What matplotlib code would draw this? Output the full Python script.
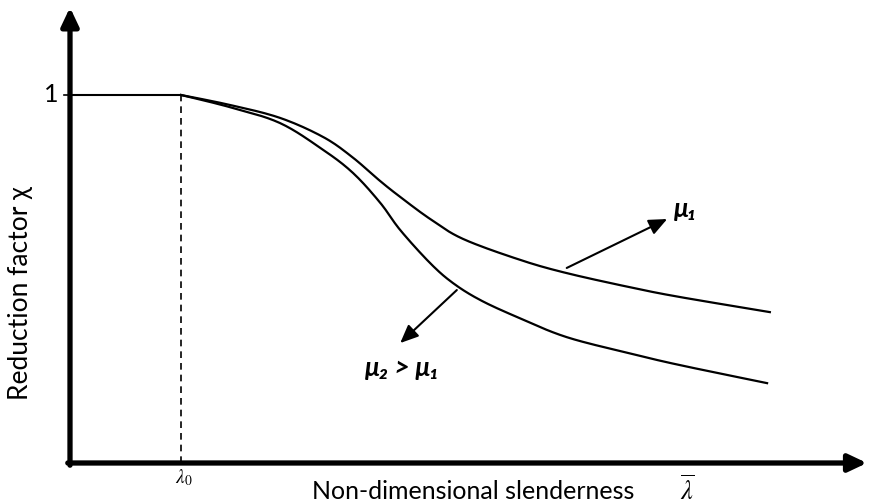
import matplotlib
matplotlib.use("Agg")
import matplotlib.pyplot as plt
import numpy as np

# values (x = slenderness, y = reduction factor)
lam0 = 0.2
plateau_x = [0.0, 0.2]
plateau_y = [1.0, 1.0]

mu1_x = [0.200, 0.288, 0.378, 0.456, 0.508, 0.559, 0.595, 0.649, 0.708, 0.811, 0.895, 1.014, 1.099, 1.261]
mu1_y = [1.000, 0.973, 0.938, 0.886, 0.832, 0.766, 0.723, 0.663, 0.609, 0.552, 0.516, 0.476, 0.451, 0.410]

mu2_x = [0.200, 0.288, 0.378, 0.456, 0.510, 0.559, 0.595, 0.649, 0.690, 0.739, 0.805, 0.895, 1.014, 1.099, 1.256]
mu2_y = [1.000, 0.967, 0.924, 0.851, 0.788, 0.707, 0.633, 0.543, 0.489, 0.443, 0.397, 0.342, 0.296, 0.266, 0.217]

sans = ["Lato", "DejaVu Sans"]


def smooth(xs, ys, n=16):
    # catmull-rom through the read points, only for drawing
    p = np.column_stack([xs, ys])
    p = np.vstack([p[0], p, p[-1]])
    out = []
    t = np.linspace(0, 1, n, endpoint=False)[:, None]
    for i in range(1, len(p) - 2):
        p0, p1, p2, p3 = p[i - 1], p[i], p[i + 1], p[i + 2]
        seg = 0.5 * (2 * p1 + (-p0 + p2) * t + (2 * p0 - 5 * p1 + 4 * p2 - p3) * t ** 2
                     + (-p0 + 3 * p1 - 3 * p2 + p3) * t ** 3)
        out.append(seg)
    out.append(p[-2][None, :])
    out = np.vstack(out)
    return out[:, 0], out[:, 1]


fig = plt.figure(figsize=(8.69, 5.04), dpi=100)
ax = fig.add_axes([0, 0, 1, 1])
ax.set_xlim(-70 / 555, 799 / 555)
ax.set_ylim(-41 / 368, 463 / 368)
ax.axis("off")

# axes with arrow heads
axis_arrow = dict(arrowstyle="-|>,head_length=0.55,head_width=0.26",
                  lw=3.8, color="black", mutation_scale=20, shrinkA=0, shrinkB=0)
ax.annotate("", xy=(0, 1.238), xytext=(0, -0.006), arrowprops=axis_arrow,
            annotation_clip=False)
ax.annotate("", xy=(1.436, 0), xytext=(-0.004, 0), arrowprops=axis_arrow,
            annotation_clip=False)

# curves
ax.plot(plateau_x, plateau_y, color="black", lw=1.5)
ax.plot(*smooth(mu1_x, mu1_y), color="black", lw=1.6)
ax.plot(*smooth(mu2_x, mu2_y), color="black", lw=1.6)
ax.plot([lam0, lam0], [0, 1], color="black", lw=1.2, ls=(0, (4, 3)))

# tick at 1
ax.plot([-0.011, 0], [1, 1], color="black", lw=1.2)
ax.text(-0.020, 1.0, "1", ha="right", va="center", fontsize=18, family=sans)

# pointer arrows
ptr = dict(arrowstyle="-|>,head_length=0.55,head_width=0.24",
           lw=1.5, color="black", mutation_scale=20, shrinkA=0, shrinkB=0)
ax.annotate("", xy=(1.076, 0.663), xytext=(0.895, 0.530), arrowprops=ptr)
ax.annotate("", xy=(0.595, 0.326), xytext=(0.697, 0.470), arrowprops=ptr)

ax.text(1.110, 0.690, "μ₁", ha="center", va="center", fontsize=19,
        fontweight="bold", style="italic", family=sans)
ax.text(0.598, 0.258, "μ₂ > μ₁", ha="center", va="center", fontsize=19,
        fontweight="bold", style="italic", family=sans)

# labels
ax.text(lam0 + 0.006, -0.041, r"$\lambda_0$", ha="center", va="center", fontsize=14,
        math_fontfamily="stix")
ax.text(0.436, -0.099, "Non-dimensional slenderness", ha="left", va="baseline",
        fontsize=18, family=sans)
ax.text(1.112, -0.099, r"$\overline{\lambda}$", ha="center", va="baseline", fontsize=19,
        math_fontfamily="stix")
ax.text(-0.090, 0.462, "Reduction factor χ", ha="center", va="center", rotation=90,
        fontsize=19, family=sans)

fig.savefig("out.png", dpi=100)
